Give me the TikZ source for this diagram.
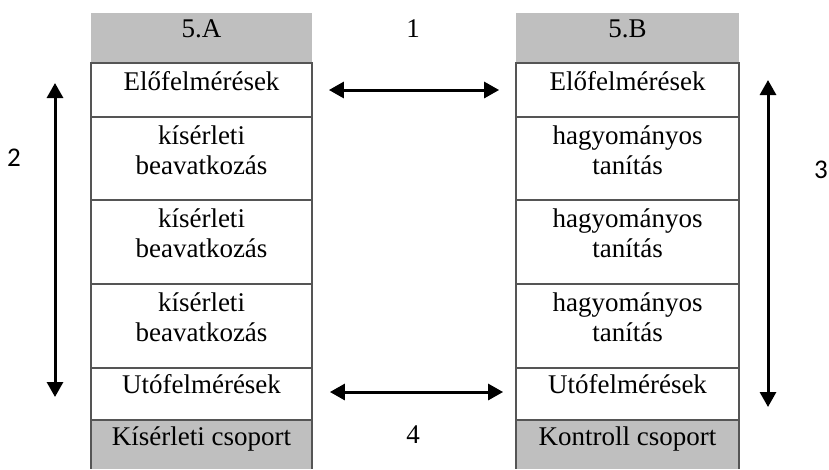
\documentclass[tikz,border=0pt]{standalone}
\usepackage{fontspec}
\setmainfont{Liberation Serif}
\newfontfamily\numfont{Carlito}
\usetikzlibrary{arrows.meta}
\definecolor{hdrgray}{HTML}{BFBFBF}
\definecolor{rulegray}{HTML}{555555}

\begin{document}
\begin{tikzpicture}[x=1pt,y=-1pt,
  rulepen/.style={draw=rulegray, line width=1.8pt},
  cellbox/.style={rulepen, fill=white, inner sep=0pt, minimum width=#1},
  shade/.style={fill=hdrgray, inner sep=0pt, minimum width=#1},
  celltext/.style={anchor=north, inner sep=0pt, align=center,
    font=\fontsize{27}{30}\selectfont},
  serifnum/.style={inner sep=0pt, font=\fontsize{27}{30}\selectfont},
  sansnum/.style={inner sep=0pt, font=\numfont\fontsize{27}{30}\selectfont},
  link/.style={line width=3pt, {Triangle[length=15pt,width=16pt]}-{Triangle[length=15pt,width=16pt]}}]

\useasboundingbox (0,0) rectangle (829,469);

% column A: headers and footers
\node[shade=221pt, minimum height=50pt] (ah) at (201.5,38) {};
\node[shade=221pt, minimum height=49pt] (af) at (201.5,444.5) {};
% column B: headers and footers
\node[shade=223pt, minimum height=50pt] (bh) at (627.5,38) {};
\node[shade=223pt, minimum height=49pt] (bf) at (627.5,444.5) {};
\draw[rulepen] (af.north west) -- (af.south west);
\draw[rulepen] (af.north east) -- (af.south east);
\draw[rulepen] (bf.north west) -- (bf.south west);
\draw[rulepen] (bf.north east) -- (bf.south east);

% column A cells
\node[cellbox=221pt, minimum height=54pt] (a1) at (201.5,90) {};
\node[cellbox=221pt, minimum height=83pt] (a2) at (201.5,158.5) {};
\node[cellbox=221pt, minimum height=84pt] (a3) at (201.5,242) {};
\node[cellbox=221pt, minimum height=84pt] (a4) at (201.5,326) {};
\node[cellbox=221pt, minimum height=52pt] (a5) at (201.5,394) {};
% column B cells
\node[cellbox=223pt, minimum height=54pt] (b1) at (627.5,90) {};
\node[cellbox=223pt, minimum height=83pt] (b2) at (627.5,158.5) {};
\node[cellbox=223pt, minimum height=84pt] (b3) at (627.5,242) {};
\node[cellbox=223pt, minimum height=84pt] (b4) at (627.5,326) {};
\node[cellbox=223pt, minimum height=52pt] (b5) at (627.5,394) {};

% cell texts
\node[celltext] (tah) at ([yshift=-7pt]ah.north) {5.A};
\node[celltext] (ta1) at ([yshift=-9pt]a1.north) {Előfelmérések};
\node[celltext] (ta2) at ([yshift=-9pt]a2.north) {kísérleti\\beavatkozás};
\node[celltext] (ta3) at ([yshift=-9pt]a3.north) {kísérleti\\beavatkozás};
\node[celltext] (ta4) at ([yshift=-9pt]a4.north) {kísérleti\\beavatkozás};
\node[celltext] (ta5) at ([yshift=-7pt]a5.north) {Utófelmérések};
\node[celltext] (taf) at ([yshift=-7pt]af.north) {Kísérleti csoport};

\node[celltext] (tbh) at ([yshift=-7pt]bh.north) {5.B};
\node[celltext] (tb1) at ([yshift=-9pt]b1.north) {Előfelmérések};
\node[celltext] (tb2) at ([yshift=-9pt]b2.north) {hagyományos\\tanítás};
\node[celltext] (tb3) at ([yshift=-9pt]b3.north) {hagyományos\\tanítás};
\node[celltext] (tb4) at ([yshift=-9pt]b4.north) {hagyományos\\tanítás};
\node[celltext] (tb5) at ([yshift=-7pt]b5.north) {Utófelmérések};
\node[celltext] (tbf) at ([yshift=-7pt]bf.north) {Kontroll csoport};

% comparison arrows between the groups
\draw[link, shorten <=16pt, shorten >=16pt] (a1.east) -- (b1.west);
\draw[link, shorten <=17pt, shorten >=12pt] ([yshift=2pt]a5.east) -- ([yshift=2pt]b5.west);

% time-span arrows beside the columns
\coordinate (lt) at (55,83);
\coordinate (lb) at (55,397);
\coordinate (rt) at (768,80);
\coordinate (rb) at (768,407);
\draw[link] (lt) -- (lb);
\draw[link] (rt) -- (rb);

% labels
\node[serifnum] (n1) at (413,29) {1};
\node[serifnum] (n4) at (413,435) {4};
\node[sansnum] (n2) at (14,158) {2};
\node[sansnum] (n3) at (821,170) {3};
\end{tikzpicture}
\end{document}
